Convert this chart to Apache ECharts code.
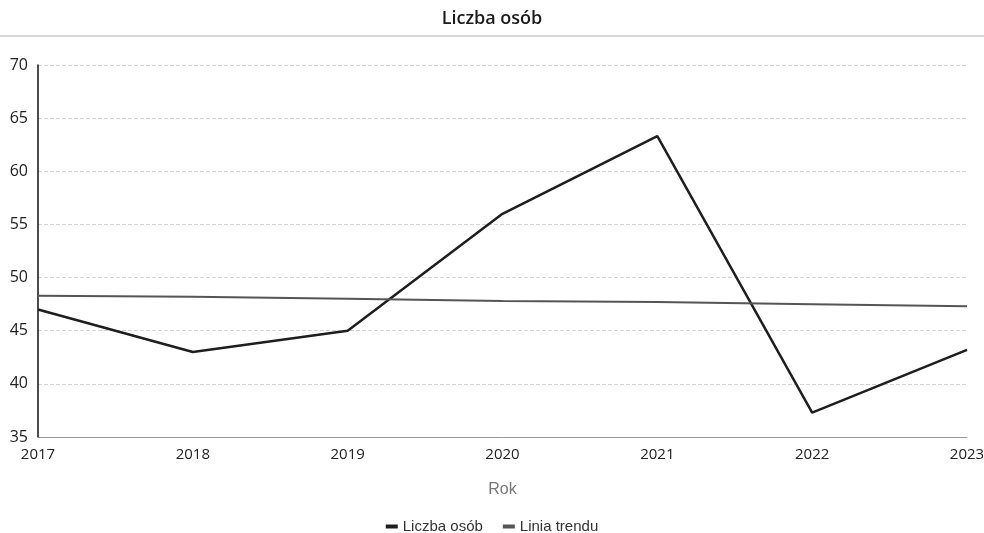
<!DOCTYPE html>
<html><head><meta charset="utf-8">
<script src="https://cdn.jsdelivr.net/npm/echarts@6/dist/echarts.min.js"></script>
<style>html,body{margin:0;padding:0;background:#fff}#c{width:984px;height:533px}</style>
</head><body><div id="c"></div>
<script>
const years = ['2017','2018','2019','2020','2021','2022','2023'];
const liczbaOsob = [47, 43, 45, 56, 63.3, 37.3, 43.2];
const liniaTrendu = [48.3, 48.2, 48.0, 47.8, 47.7, 47.5, 47.3];
const yTicks = [35, 40, 45, 50, 55, 60, 65, 70];

const chart = echarts.init(document.getElementById('c'), null, {renderer: 'canvas'});
chart.setOption({
  backgroundColor: '#fff',
  animation: false,
  textStyle: {fontFamily: 'Open Sans'},
  title: {
    text: 'Liczba osób', left: 'center', top: 5,
    textStyle: {fontSize: 18, fontWeight: 600, color: '#1a1a1a', fontFamily: 'Open Sans'}
  },
  graphic: [{
    type: 'line', shape: {x1: 0, y1: 36, x2: 984, y2: 36},
    style: {stroke: '#c8c8c8', lineWidth: 1.5}
  }],
  legend: {
    top: 514, left: 'center', itemGap: 20,
    itemWidth: 12, itemHeight: 4, icon: 'rect',
    textStyle: {fontSize: 15, color: '#333', fontFamily: 'Liberation Sans'},
    data: ['Liczba osób', 'Linia trendu']
  },
  grid: {left: 38, right: 17, top: 65, bottom: 96, containLabel: false, outerBoundsMode: 'none'},
  xAxis: {
    type: 'category', data: years, boundaryGap: false,
    name: 'Rok', nameLocation: 'middle', nameGap: 45,
    nameTextStyle: {fontSize: 16, color: '#777', fontFamily: 'Liberation Sans'},
    axisLine: {lineStyle: {color: '#999', width: 1}},
    axisTick: {show: false},
    axisLabel: {fontSize: 15, color: '#222', margin: 10, showMinLabel: true, showMaxLabel: true}
  },
  yAxis: {
    type: 'value', min: yTicks[0], max: yTicks[yTicks.length-1], interval: 5,
    axisLine: {show: true, lineStyle: {color: '#111', width: 1.5}},
    axisTick: {show: false},
    axisLabel: {fontSize: 16, color: '#222', margin: 10},
    splitLine: {lineStyle: {color: '#d4d4d4', type: 'dashed', width: 1}}
  },
  series: [
    {name: 'Liczba osób', type: 'line', data: liczbaOsob, symbol: 'none',
     lineStyle: {color: '#1e1e1e', width: 2.5}, itemStyle: {color: '#1e1e1e'}},
    {name: 'Linia trendu', type: 'line', data: liniaTrendu, symbol: 'none',
     lineStyle: {color: '#555', width: 2}, itemStyle: {color: '#555'}}
  ]
});
</script></body></html>
